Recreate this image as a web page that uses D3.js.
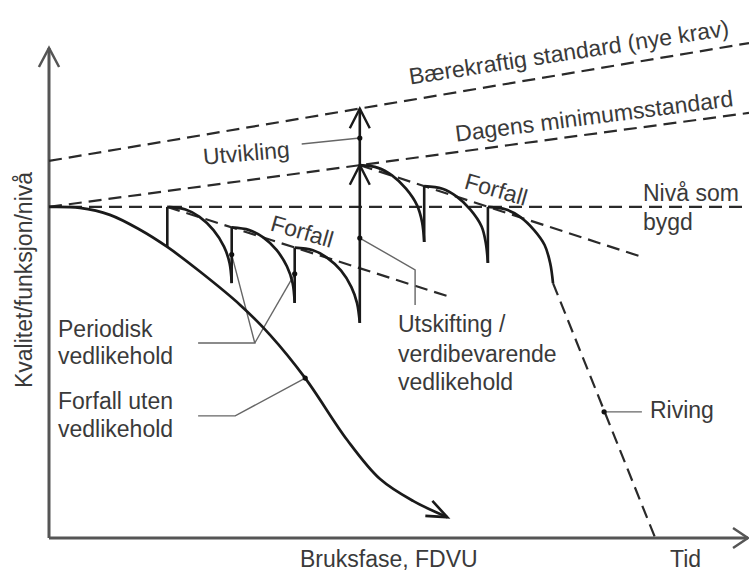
<!DOCTYPE html>
<html lang="no">
<head>
<meta charset="utf-8">
<title>Forfall og vedlikehold</title>
<script src="https://d3js.org/d3.v7.min.js"></script>
<style>
  body { margin: 0; background: #fff; }
  svg text { font-family: "Liberation Sans", Arial, sans-serif; font-size: 23px; fill: #3a3a3a; }
</style>
</head>
<body>
<div id="chart"></div>
<script>
// ---- data: x = tid (0-100), y = nivå (100 = nivå som bygd) ----
var nivaSomBygd   = [[0, 100], [100, 100]];
var dagensMinimum = [[0, 100], [100, 128.4]];
var baerekraftig  = [[0, 113.9], [100, 149.5]];

// forfall uten vedlikehold
var forfallUten = [[0, 100], [4.4, 99.7], [8.7, 97.6], [13, 93.1], [16.9, 87.9], [21.6, 80.4],
  [27.3, 70.4], [31.6, 61.3], [36.6, 48.3], [42.6, 29.6], [47.3, 17.8], [52, 11.2], [56.9, 6.3]];

// forfall-linjer (stiplet)
var forfallNedre = [[16.9, 100], [57.3, 72.8]];
var forfallOvre  = [[44.4, 112.6], [84.7, 84.9]];
var riving       = [[72.0, 77.0], [86.6, 0]];

// periodisk vedlikehold (sagtann)
var periodisk = [
  [[16.9, 100], [19.5, 99.2], [21.5, 97], [23.5, 93], [25, 88], [25.8, 83], [26.1, 77]],
  [[26.1, 93.8], [28.6, 93.0], [30.6, 90.8], [32.5, 87], [34, 82], [34.8, 77], [35.1, 71]],
  [[35.1, 87.7], [37.7, 86.9], [39.7, 84.7], [41.7, 80.8], [43.2, 75.8], [44.0, 71], [44.4, 65]]
];
var utskifting = [
  [[44.4, 112.6], [47, 111.8], [49, 109.5], [51, 105.5], [52.6, 100.4], [53.3, 95.4], [53.6, 89.4]],
  [[53.6, 106.3], [56.2, 105.5], [58.2, 103.2], [60.2, 99.2], [61.8, 94.1], [62.4, 89.1], [62.7, 83.1]],
  [[62.7, 100], [65.3, 99.2], [67.3, 97], [69.3, 93], [70.8, 88.5], [71.6, 83], [72.0, 77]]
];
// vertikale hopp [x, fra, til]
var hopp = [[16.9, 87.9, 100], [26.1, 77, 93.8], [35.1, 71, 87.7], [53.6, 89.4, 106.3], [62.7, 83.1, 100]];
// utvikling: [x, fra, til dagens, til bærekraftig]
var utvikling = [44.4, 65, 112.6, 129.7];

// ledelinjer og punkter
var ledere = [
  [[21.3, 58.9], [29.4, 58.9], [26.1, 85.6]],
  [[29.4, 58.9], [35.1, 79.8]],
  [[21.3, 36.9], [26.6, 36.9], [36.6, 48.3]],
  [[44.4, 90.6], [52.3, 81.0], [52.3, 70.4]],
  [[36.1, 119.0], [44.4, 120.8]],
  [[79.3, 38.1], [84.7, 38.1]]
];
var punkter = [[26.1, 85.6], [35.1, 79.8], [36.6, 48.3], [44.4, 90.6], [44.4, 120.8], [79.3, 38.1]];

var yTittel = "Kvalitet/funksjon/nivå";
var xTittel = "Bruksfase, FDVU";
var xSlutt  = "Tid";

// ---- oppsett ----
var width = 749, height = 574;
var svg = d3.select("#chart").append("svg")
  .attr("width", width).attr("height", height);

var x = d3.scaleLinear().domain([0, 100]).range([49, 749]);
var y = d3.scaleLinear().domain([0, 148]).range([538, 48]);

var line = d3.line().x(function(d) { return x(d[0]); }).y(function(d) { return y(d[1]); });
var curve = d3.line().x(function(d) { return x(d[0]); }).y(function(d) { return y(d[1]); })
  .curve(d3.curveCatmullRom.alpha(0.5));

function chevron(tx, ty, ang, len, half, color, w) {
  var a = ang * Math.PI / 180, h = half * Math.PI / 180;
  var p1 = [tx - len * Math.cos(a - h), ty - len * Math.sin(a - h)];
  var p2 = [tx - len * Math.cos(a + h), ty - len * Math.sin(a + h)];
  svg.append("path")
    .attr("d", "M" + p1 + "L" + [tx, ty] + "L" + p2)
    .attr("fill", "none").attr("stroke", color).attr("stroke-width", w)
    .attr("stroke-linejoin", "miter");
}

// akser
svg.append("path").attr("d", line([[0, 0], [0, 148]]))
  .attr("stroke", "#555").attr("stroke-width", 3).attr("fill", "none");
svg.append("path").attr("d", line([[0, 0], [99.85, 0]]))
  .attr("stroke", "#555").attr("stroke-width", 3).attr("fill", "none");
chevron(x(0), y(148), -90, 21.5, 28, "#555", 2.5);
chevron(x(99.85), y(0), 0, 18, 34, "#555", 2.5);

// stiplede linjer
[nivaSomBygd, dagensMinimum, baerekraftig, forfallNedre, forfallOvre, riving].forEach(function(d) {
  svg.append("path").attr("d", line(d))
    .attr("fill", "none").attr("stroke", "#2a2a2a").attr("stroke-width", 2.2)
    .attr("stroke-dasharray", "13,7");
});

// ledelinjer
ledere.forEach(function(d) {
  svg.append("path").attr("d", line(d))
    .attr("fill", "none").attr("stroke", "#666").attr("stroke-width", 1.4);
});

// kurver
var kurver = [forfallUten].concat(periodisk, utskifting);
kurver.forEach(function(d) {
  svg.append("path").attr("d", curve(d))
    .attr("fill", "none").attr("stroke", "#1a1a1a").attr("stroke-width", 2.7);
});
var n = forfallUten.length;
var a = Math.atan2(y(forfallUten[n - 1][1]) - y(forfallUten[n - 2][1]),
                   x(forfallUten[n - 1][0]) - x(forfallUten[n - 2][0])) * 180 / Math.PI;
chevron(x(forfallUten[n - 1][0]), y(forfallUten[n - 1][1]), a, 22, 22, "#1a1a1a", 2.6);

hopp.forEach(function(d) {
  svg.append("path").attr("d", line([[d[0], d[1]], [d[0], d[2]]]))
    .attr("stroke", "#1a1a1a").attr("stroke-width", 2.6);
});

// utvikling-pil
svg.append("path").attr("d", line([[utvikling[0], utvikling[1]], [utvikling[0], utvikling[3]]]))
  .attr("stroke", "#1a1a1a").attr("stroke-width", 2.6);
chevron(x(utvikling[0]), y(utvikling[2]), -90, 22, 27, "#1a1a1a", 2.4);
chevron(x(utvikling[0]), y(utvikling[3]), -90, 22, 27, "#1a1a1a", 2.4);

// punkter
svg.selectAll("circle.pt").data(punkter).enter().append("circle")
  .attr("class", "pt")
  .attr("cx", function(d) { return x(d[0]); })
  .attr("cy", function(d) { return y(d[1]); })
  .attr("r", 2.6).attr("fill", "#111");

// tekster
function tekst(t, px, py, rot, anchor) {
  svg.append("text")
    .attr("transform", "translate(" + px + "," + py + ") rotate(" + (rot || 0) + ")")
    .attr("text-anchor", anchor || "start")
    .text(t);
}
tekst("Bærekraftig standard (nye krav)", 570, 60, -8.7, "middle");
tekst("Dagens minimumsstandard", 595, 124, -7.3, "middle");
tekst("Utvikling", 247, 161, -5, "middle");
tekst("Forfall", 300, 239, 16, "middle");
tekst("Forfall", 494, 197, 16, "middle");
tekst("Nivå som", 643, 201);
tekst("bygd", 643, 230);
tekst("Periodisk", 58, 337);
tekst("vedlikehold", 58, 364);
tekst("Forfall uten", 58, 409);
tekst("vedlikehold", 58, 437);
tekst("Utskifting /", 398, 332);
tekst("verdibevarende", 398, 362);
tekst("vedlikehold", 398, 390);
tekst("Riving", 650, 418);
tekst(xSlutt, 670, 567);
tekst(xTittel, 300, 567);
tekst(yTittel, 32, 280, -90, "middle");
</script>
</body>
</html>
